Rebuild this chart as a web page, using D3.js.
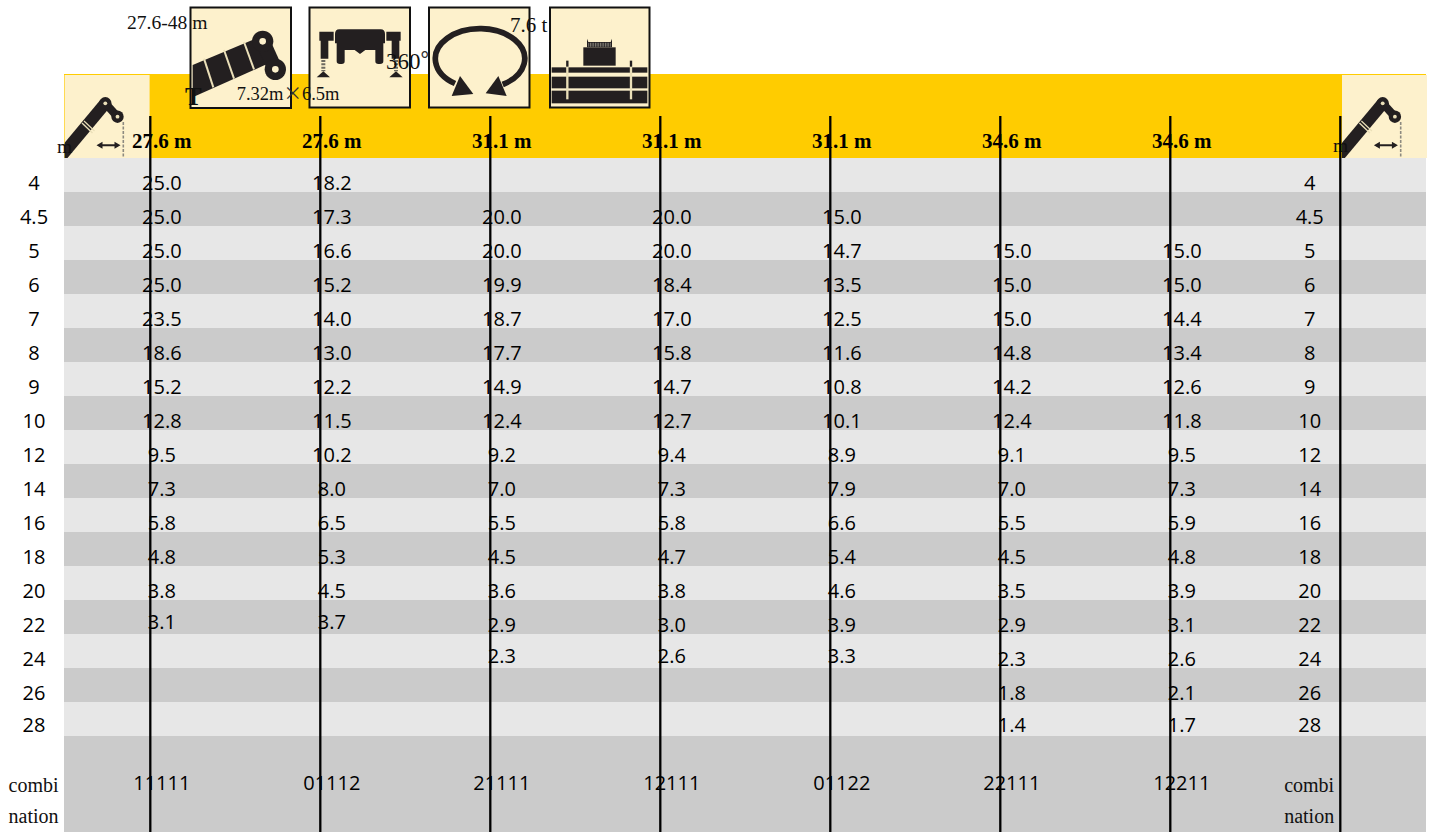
<!DOCTYPE html>
<html>
<head>
<meta charset="utf-8" />
<title>Load chart</title>
<style>
html, body { margin: 0; padding: 0; background: #fff; }
svg { display: block; }
.num { font-family: "Open Sans", "Noto Sans", sans-serif; font-size: 20px; fill: #000; text-anchor: middle; }
.serif { font-family: "Liberation Serif", serif; fill: #111; }
.head { font-family: "Liberation Serif", serif; font-weight: bold; font-size: 21px; fill: #000; text-anchor: middle; }
</style>
</head>
<body>
<div id="graph"></div>
<script src="https://cdnjs.cloudflare.com/ajax/libs/d3/7.8.5/d3.min.js"></script>
<script>
var radius = ["4","4.5","5","6","7","8","9","10","12","14","16","18","20","22","24","26","28"]
var combos = ["11111","01112","21111","12111","01122","22111","12211"]
var booms = ["27.6 m","27.6 m","31.1 m","31.1 m","31.1 m","34.6 m","34.6 m"]

var load11111 = [25.0,25.0,25.0,25.0,23.5,18.6,15.2,12.8,9.5,7.3,5.8,4.8,3.8,3.1,null,null,null]
var load01112 = [18.2,17.3,16.6,15.2,14.0,13.0,12.2,11.5,10.2,8.0,6.5,5.3,4.5,3.7,null,null,null]
var load21111 = [null,20.0,20.0,19.9,18.7,17.7,14.9,12.4,9.2,7.0,5.5,4.5,3.6,2.9,2.3,null,null]
var load12111 = [null,20.0,20.0,18.4,17.0,15.8,14.7,12.7,9.4,7.3,5.8,4.7,3.8,3.0,2.6,null,null]
var load01122 = [null,15.0,14.7,13.5,12.5,11.6,10.8,10.1,8.9,7.9,6.6,5.4,4.6,3.9,3.3,null,null]
var load22111 = [null,null,15.0,15.0,15.0,14.8,14.2,12.4,9.1,7.0,5.5,4.5,3.5,2.9,2.3,1.8,1.4]
var load12211 = [null,null,15.0,15.0,14.4,13.4,12.6,11.8,9.5,7.3,5.9,4.8,3.9,3.1,2.6,2.1,1.7]
var loads = [load11111,load01112,load21111,load12111,load01122,load22111,load12211]

!(function(){
    "use strict"

    var width = 1429, height = 832
    var black = "#231f20", cream = "#fdf1cc", strip = "#eadfb8"
    var svg = d3.select("#graph").append("svg").attr("width", width).attr("height", height)

    var xScale = d3.scaleBand().domain(combos).range([150.3, 1340.3])
    var yScale = d3.scaleBand().domain(radius).range([158, 736])
    var textShift = 11.5
    var tableLeft = 64, tableRight = 1426
    var footBottom = 832

    drawBands()
    drawHeader()
    drawIcons()
    drawText()
    drawLines()

    function drawBands() {
        svg.append("g").selectAll("rect").data(radius).enter().append("rect")
            .attr("x", tableLeft)
            .attr("y", function(d){ return yScale(d) })
            .attr("width", tableRight - tableLeft)
            .attr("height", yScale.bandwidth())
            .attr("fill", function(d, i){ return i % 2 ? "#cbcbcb" : "#e7e7e7" })

        svg.append("rect")
            .attr("x", tableLeft)
            .attr("y", yScale.range()[1])
            .attr("width", tableRight - tableLeft)
            .attr("height", footBottom - yScale.range()[1])
            .attr("fill", "#cbcbcb")
    }

    function drawHeader() {
        svg.append("rect").attr("x", tableLeft).attr("y", 74)
            .attr("width", tableRight - tableLeft).attr("height", 84).attr("fill", "#ffcc00")

        svg.append("clipPath").attr("id", "cornerClip").append("rect")
            .attr("x", 64.6).attr("y", 75).attr("width", 85.4).attr("height", 83)

        var left = svg.append("g")
        cornerIcon(left)
        var right = svg.append("g").attr("transform", "translate(1277.4,0)")
        cornerIcon(right)
    }

    function cornerIcon(g) {
        g.append("rect").attr("x", 64.6).attr("y", 75).attr("width", 85).attr("height", 83).attr("fill", cream)
        var c = g.append("g").attr("clip-path", "url(#cornerClip)")
        c.append("line").attr("x1", 58).attr("y1", 160).attr("x2", 105.3).attr("y2", 103.3)
            .attr("stroke", black).attr("stroke-width", 12)
        c.append("line").attr("x1", 105.3).attr("y1", 103.3).attr("x2", 117.5).attr("y2", 116.7)
            .attr("stroke", black).attr("stroke-width", 8)
        c.append("line").attr("x1", 82).attr("y1", 123).attr("x2", 92.5).attr("y2", 133)
            .attr("stroke", strip).attr("stroke-width", 1.4)
        c.append("line").attr("x1", 84).attr("y1", 121).attr("x2", 94.5).attr("y2", 131)
            .attr("stroke", strip).attr("stroke-width", 1.2)
        ;[[105.3,103.3],[117.5,116.7]].forEach(function(p){
            c.append("circle").attr("cx", p[0]).attr("cy", p[1]).attr("r", 6.2).attr("fill", black)
            c.append("circle").attr("cx", p[0]).attr("cy", p[1]).attr("r", 1.9).attr("fill", strip)
        })
        c.append("line").attr("x1", 123.3).attr("y1", 122).attr("x2", 123.3).attr("y2", 158)
            .attr("stroke", "#8d8a80").attr("stroke-width", 1.6).attr("stroke-dasharray", "3 1.5")
        c.append("line").attr("x1", 99).attr("y1", 145.3).attr("x2", 118).attr("y2", 145.3)
            .attr("stroke", black).attr("stroke-width", 2)
        c.append("path").attr("d", "M96.5,145.3L102.5,141.8V148.8ZM120.5,145.3L114.5,141.8V148.8Z").attr("fill", black)
    }

    // icon drawings are written in the 3x crop coordinates, then scaled down
    function iconGroup(x, y) {
        return svg.append("g").attr("transform", "translate(" + [x, y] + ") scale(" + 1/3 + ")")
    }

    function iconBox(x, y, w, h) {
        svg.append("rect").attr("x", x).attr("y", y).attr("width", w).attr("height", h)
            .attr("fill", cream).attr("stroke", "#111").attr("stroke-width", 2)
    }

    function drawIcons() {
        iconBox(190.5, 7.5, 100.5, 100.5)
        iconBox(309.5, 7.5, 100.5, 100)
        iconBox(429, 7.5, 100.5, 100)
        iconBox(550, 7.5, 99.5, 100)

        // boom
        var a = iconGroup(0, 0)
        a.append("path").attr("d", "M578,195L770,115L806,190L578,292Z").attr("fill", black)
        a.append("path").attr("d", "M768,133L808,115L846,199L806,217Z").attr("fill", black)
        ;[[788,124],[826,208]].forEach(function(p){
            a.append("circle").attr("cx", p[0]).attr("cy", p[1]).attr("r", 32).attr("fill", black)
            a.append("circle").attr("cx", p[0]).attr("cy", p[1]).attr("r", 10).attr("fill", cream)
        })
        ;[[612,176,640,262],[672,150,702,236],[732,126,762,208]].forEach(function(l){
            a.append("line").attr("x1", l[0]).attr("y1", l[1]).attr("x2", l[2]).attr("y2", l[3])
                .attr("stroke", strip).attr("stroke-width", 6)
        })

        // outriggers
        var b = iconGroup(0, 0)
        b.append("path").attr("d", "M1018,88H1142Q1155,88 1155,102V130H1150V184Q1150,192 1140,192H1135Q1126,192 1126,184V150H1096L1080,162L1064,150H1034V184Q1034,192 1025,192H1020Q1010,192 1010,184V130H1005V102Q1005,88 1018,88Z").attr("fill", black)
        b.append("path").attr("d", "M958,95H1001V122H985V176H962V122H958Z").attr("fill", black)
        b.append("path").attr("d", "M1202,95H1159V122H1175V176H1198V122H1202Z").attr("fill", black)
        ;[970, 1188].forEach(function(x){
            b.append("line").attr("x1", x).attr("y1", 180).attr("x2", x).attr("y2", 214)
                .attr("stroke", "#6d6a60").attr("stroke-width", 12).attr("stroke-dasharray", "6 4")
            b.append("path").attr("d", "M" + (x-20) + ",232L" + x + ",214L" + (x+20) + ",232Z").attr("fill", black)
        })

        // slewing
        svg.append("path").attr("d", "M455,83.5A44.7,30 0 1 1 502.7,84.5")
            .attr("fill", "none").attr("stroke", black).attr("stroke-width", 5.7)
        var c = iconGroup(420, 0)
        c.append("path").attr("d", "M160,282L120,228L95,288Z").attr("fill", black)
        c.append("path").attr("d", "M197,280L235,228L260,288Z").attr("fill", black)

        // counterweight
        var e = iconGroup(420, 0)
        e.append("rect").attr("x", 490).attr("y", 142).attr("width", 97).attr("height", 55).attr("fill", black)
        e.append("path").attr("d", "M501,116V142H576V116L572,126H505Z").attr("fill", black)
        e.append("line").attr("x1", 505).attr("y1", 134).attr("x2", 572).attr("y2", 134)
            .attr("stroke", "#8d8a80").attr("stroke-width", 12).attr("stroke-dasharray", "2.5 2.5")
        ;[[395,202,16],[395,230,35],[395,272,38]].forEach(function(r){
            e.append("rect").attr("x", r[0]).attr("y", r[1]).attr("width", 287).attr("height", r[2]).attr("fill", black)
        })
        ;[442, 633].forEach(function(x){
            e.append("line").attr("x1", x).attr("y1", 182).attr("x2", x).attr("y2", 298)
                .attr("stroke", strip).attr("stroke-width", 7)
        })
        e.append("line").attr("x1", 442).attr("y1", 182).attr("x2", 442).attr("y2", 200)
            .attr("stroke", black).attr("stroke-width", 7)
        e.append("line").attr("x1", 633).attr("y1", 182).attr("x2", 633).attr("y2", 200)
            .attr("stroke", black).attr("stroke-width", 7)
    }

    function serifText(str, x, y, size) {
        return svg.append("text").attr("class", "serif").attr("x", x).attr("y", y)
            .attr("font-size", size + "px").text(str)
    }

    function drawText() {
        serifText("27.6-48 m", 127, 29, 19.6)
        serifText("T", 185, 105, 25).attr("font-weight", "bold")

        var size = serifText("7.32m", 236.7, 100, 18.5)
        size.append("tspan").attr("font-family", "Noto Sans CJK SC").attr("fill", "#333").text("×")
        size.append("tspan").text("6.5m")

        var turn = serifText("360", 386, 69, 23)
        turn.append("tspan").attr("font-family", "Noto Sans CJK SC").attr("fill", "#333").text("°")

        serifText("7.6 t", 510, 32, 21)
        serifText("m", 57, 152.5, 19.5)
        serifText("m", 1333, 152, 19.5)

        // boom lengths
        svg.append("g").selectAll("text").data(combos).enter().append("text")
            .attr("class", "head")
            .attr("x", function(d){ return xScale(d) + textShift })
            .attr("y", 148)
            .text(function(d, i){ return booms[i] })

        // radius labels on both sides
        ;[34, 1309.7].forEach(function(x){
            svg.append("g").selectAll("text").data(radius).enter().append("text")
                .attr("class", "num")
                .attr("x", x)
                .attr("y", rowBase)
                .text(function(d){ return d })

            svg.append("text").attr("class", "serif").attr("x", x - 0.5).attr("y", 792)
                .attr("text-anchor", "middle").attr("font-size", "20px").text("combi")
            svg.append("text").attr("class", "serif").attr("x", x - 0.5).attr("y", 822.7)
                .attr("text-anchor", "middle").attr("font-size", "20px").text("nation")
        })

        // values
        combos.forEach(function(name, c){
            var vals = loads[c]
            var last = d3.max(vals, function(v, i){ return v == null ? -1 : i })
            var cells = vals.map(function(v, i){ return {v: v, i: i} }).filter(function(d){ return d.v != null })
            svg.append("g").selectAll("text").data(cells).enter().append("text")
                .attr("class", "num")
                .attr("x", xScale(name) + textShift)
                .attr("y", function(d){
                    // last entry of a short column sits a bit higher
                    return rowBase(radius[d.i]) - (d.i == last && last < radius.length - 1 ? 3 : 0)
                })
                .text(function(d){ return d3.format(".1f")(d.v) })

            svg.append("text").attr("class", "num")
                .attr("x", xScale(name) + textShift)
                .attr("y", 790)
                .text(name)
        })
    }

    function rowBase(r) {
        var y = yScale(r) + 32
        return r == "28" ? y - 2 : y
    }

    function drawLines() {
        var xs = combos.map(function(d){ return xScale(d) }).concat(xScale.range()[1])
        svg.append("g").selectAll("line").data(xs).enter().append("line")
            .attr("x1", function(d){ return d })
            .attr("x2", function(d){ return d })
            .attr("y1", 116)
            .attr("y2", height)
            .attr("stroke", "#000")
            .attr("stroke-width", 2.3)
    }
}());
</script>
</body>
</html>
